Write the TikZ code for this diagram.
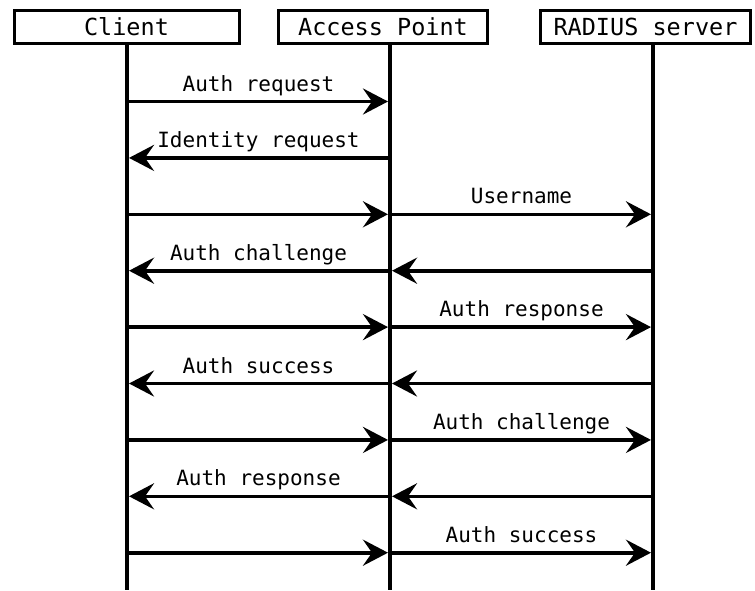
\documentclass[tikz,border=0pt]{standalone}
\usepackage{fontspec}
\setmonofont{DejaVu Sans Mono}
\usetikzlibrary{arrows.meta}
\begin{document}
\begin{tikzpicture}[x=1pt,y=-1pt,
  actorbox/.style={draw,line width=3pt,inner sep=0pt,minimum height=33pt,
    font=\ttfamily\fontsize{23.5}{26}\selectfont},
  life/.style={line width=3.6pt},
  msg/.style={line width=3.6pt,shorten >=2pt,
    -{Stealth[length=25pt,width=26pt,inset=9pt]}},
  msglabel/.style={inner sep=0pt,anchor=base,yshift=10.5pt,
    font=\ttfamily\fontsize{21}{24}\selectfont}]
  \useasboundingbox (0,0) rectangle (755,590);

  % participants
  \node[actorbox,minimum width=225pt] (client) at (126.5,27) {Client};
  \node[actorbox,minimum width=209pt] (ap)     at (383,27) {Access Point};
  \node[actorbox,minimum width=210pt] (rad)    at (645.5,27) {RADIUS server};

  % lifelines
  \coordinate (cT) at (127,44);  \coordinate (cB) at (127,590);
  \coordinate (aT) at (390,44);  \coordinate (aB) at (390,590);
  \coordinate (rT) at (653,44);  \coordinate (rB) at (653,590);
  \draw[life] (cT) -- (cB);
  \draw[life] (aT) -- (aB);
  \draw[life] (rT) -- (rB);

  % anchor points on each lifeline, one per message row
  \foreach \i in {1,...,9}{
    \pgfmathsetmacro\yy{101.5+56.4*(\i-1)}
    \coordinate (c\i) at (127,\yy);
    \coordinate (a\i) at (390,\yy);
    \coordinate (r\i) at (653,\yy);
  }

  % messages
  \draw[msg] (c1) -- node[msglabel] {Auth request} (a1);
  \draw[msg] (a2) -- node[msglabel] {Identity request} (c2);
  \draw[msg] (c3) -- (a3);
  \draw[msg] (a3) -- node[msglabel] {Username} (r3);
  \draw[msg] (r4) -- (a4);
  \draw[msg] (a4) -- node[msglabel] {Auth challenge} (c4);
  \draw[msg] (c5) -- (a5);
  \draw[msg] (a5) -- node[msglabel] {Auth response} (r5);
  \draw[msg] (r6) -- (a6);
  \draw[msg] (a6) -- node[msglabel] {Auth success} (c6);
  \draw[msg] (c7) -- (a7);
  \draw[msg] (a7) -- node[msglabel] {Auth challenge} (r7);
  \draw[msg] (r8) -- (a8);
  \draw[msg] (a8) -- node[msglabel] {Auth response} (c8);
  \draw[msg] (c9) -- (a9);
  \draw[msg] (a9) -- node[msglabel] {Auth success} (r9);
\end{tikzpicture}
\end{document}
